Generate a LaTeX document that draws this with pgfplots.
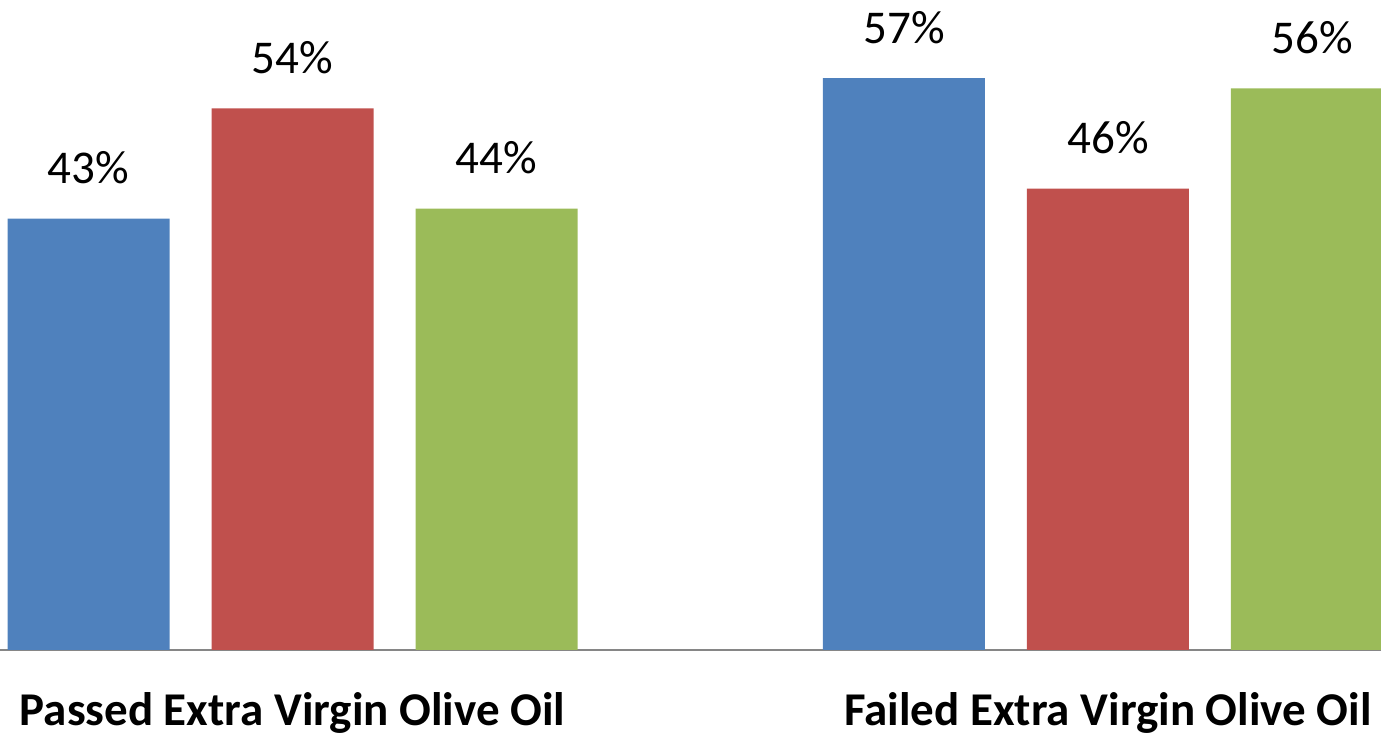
\documentclass[border=0pt]{standalone}
\usepackage{fontspec}
\setmainfont{Carlito}
\usepackage{pgfplots}
\pgfplotsset{compat=1.18}
\definecolor{barblue}{HTML}{4F81BD}
\definecolor{barred}{HTML}{C0504D}
\definecolor{bargreen}{HTML}{9BBB59}
\definecolor{axisgray}{HTML}{868686}
\begin{document}
\begin{tikzpicture}
\begin{axis}[
    name=ax,
    scale only axis,
    width=690.5pt, height=325pt,
    ybar=21pt, bar width=81pt,
    xmin=-0.3587, xmax=1.3348,
    ymin=0, ymax=64.8,
    axis y line=none,
    axis x line*=bottom,
    x axis line style={draw=axisgray, line width=1pt},
    xtick={0,1},
    xticklabels={Passed Extra Virgin Olive Oil, Failed Extra Virgin Olive Oil},
    major tick length=0pt,
    xticklabel style={font=\fontsize{23.5}{28}\selectfont\bfseries, anchor=base, yshift=-38pt, inner sep=0pt},
    /pgf/number format/assume math mode=true,
    nodes near coords={\pgfmathprintnumber[fixed,precision=0]{\pgfplotspointmeta}\%},
    every node near coord/.append style={font=\fontsize{23.5}{28}\selectfont, text=black, anchor=base, inner sep=0pt, yshift=17.5pt},
]
\addplot[fill=barblue, draw=none] coordinates {(0,43) (1,57)};
\addplot[fill=barred, draw=none] coordinates {(0,54) (1,46)};
\addplot[fill=bargreen, draw=none] coordinates {(0,44) (1,56)};
\end{axis}
\pgfresetboundingbox
\path[use as bounding box] (ax.south west) ++(0,-43pt) rectangle (ax.north east);
\end{tikzpicture}
\end{document}
